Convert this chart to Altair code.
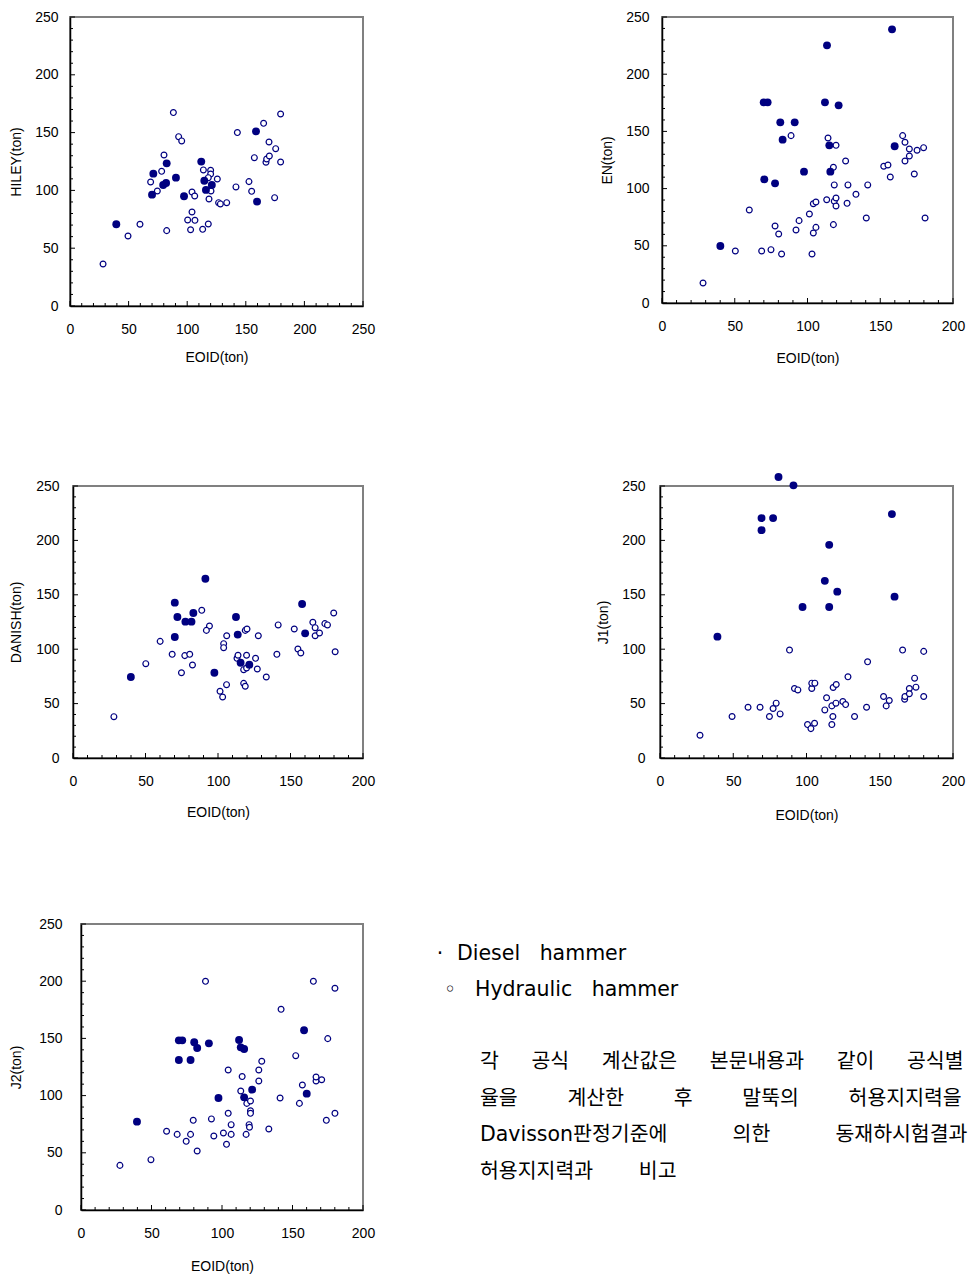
import altair as alt
import pandas as pd

NAVY = "#000080"
FONT = "Liberation Sans"
TXTFONT = "DejaVu Sans, Noto Sans CJK KR"

# ---------------- data (EOID vs formula, ton) ----------------
hiley_diesel_x = [39.5, 71.1, 70.0, 82.5, 79.5, 82.0, 90.4, 97.3, 112.0, 114.6, 116.0, 121.0, 158.7, 159.6]
hiley_diesel_y = [70.7, 114.5, 96.3, 123.4, 104.7, 106.4, 111.0, 94.9, 124.9, 108.4, 100.4, 104.7, 151.1, 90.3]
hiley_hyd_x = [28.2, 49.5, 59.7, 82.5, 68.8, 74.5, 78.2, 80.2, 88.2, 92.7, 95.3, 104.1, 106.4, 104.1, 100.4,
               106.6, 102.9, 113.2, 118.0, 113.8, 120.0, 120.0, 118.0, 125.7, 120.3, 118.6, 126.8, 128.3, 133.7,
               141.6, 142.8, 152.7, 155.0, 157.3, 165.2, 167.2, 167.8, 170.1, 169.8, 175.5, 174.6, 179.7, 179.7]
hiley_hyd_y = [36.3, 60.6, 70.7, 65.2, 107.3, 99.5, 116.5, 130.6, 167.3, 146.5, 142.8, 98.6, 95.2, 81.3, 74.4,
               74.1, 66.0, 66.3, 70.9, 117.7, 117.4, 114.2, 111.0, 109.9, 99.5, 92.6, 89.4, 88.3, 89.4,
               103.0, 150.0, 107.6, 99.2, 128.3, 158.0, 124.3, 127.2, 129.8, 141.9, 136.1, 93.7, 124.6, 166.1]

en_diesel_x = [158.1, 113.4, 69.9, 72.6, 112.0, 121.4, 81.3, 91.2, 82.9, 115.0, 159.9, 97.6, 115.7, 70.3, 77.7, 40.1]
en_diesel_y = [239.2, 225.2, 175.4, 175.4, 175.4, 172.8, 157.9, 157.9, 142.8, 137.8, 137.0, 114.8, 114.8, 108.1, 104.6, 49.8]
en_hyd_x = [28.2, 50.4, 60.0, 68.5, 74.9, 82.2, 77.7, 80.2, 88.7, 92.1, 94.2, 101.3, 103.1, 104.0, 105.8,
            104.0, 105.8, 113.2, 114.1, 117.8, 117.8, 118.4, 118.4, 119.6, 119.6, 119.6, 126.2, 127.2, 127.8,
            133.3, 140.4, 141.4, 152.4, 155.3, 156.9, 165.4, 167.0, 167.0, 170.0, 170.0, 173.4, 175.3, 179.8, 180.8]
en_hyd_y = [17.5, 45.5, 81.3, 45.5, 46.6, 42.8, 67.3, 60.3, 146.3, 63.8, 72.0, 77.8, 42.8, 61.2, 66.1,
            86.8, 88.3, 90.3, 144.2, 68.5, 118.6, 103.2, 88.9, 91.8, 84.8, 137.8, 124.1, 87.1, 103.2,
            95.0, 74.3, 103.2, 119.5, 120.6, 110.1, 146.3, 140.5, 124.1, 134.6, 128.5, 112.8, 133.5, 135.8, 74.3]

danish_diesel_x = [39.9, 70.2, 70.2, 72.0, 77.5, 81.7, 83.0, 91.3, 97.5, 112.4, 113.6, 115.6, 121.6, 158.0, 160.1]
danish_diesel_y = [74.5, 142.8, 111.2, 129.6, 125.3, 125.3, 133.3, 164.8, 78.4, 129.6, 113.4, 87.6, 85.8, 141.5, 114.6]
danish_hyd_x = [28.2, 50.2, 60.1, 68.4, 77.1, 80.5, 74.8, 82.4, 88.8, 94.1, 92.0, 101.4, 103.2, 105.9, 103.9,
                103.9, 106.0, 113.1, 113.8, 117.7, 117.7, 118.8, 118.8, 120.0, 119.7, 119.7, 125.9, 127.1, 127.8,
                133.3, 140.6, 141.5, 152.6, 155.1, 157.1, 165.4, 167.0, 167.0, 170.0, 173.7, 175.5, 179.8, 180.8]
danish_hyd_y = [38.0, 86.7, 107.2, 95.3, 94.1, 95.3, 78.4, 85.5, 135.7, 121.3, 117.3, 61.3, 56.1, 67.4, 105.1,
                101.4, 112.4, 91.6, 94.4, 81.2, 68.6, 65.9, 117.3, 118.6, 94.4, 82.7, 91.6, 81.8, 112.4,
                74.5, 95.3, 122.3, 118.6, 100.2, 96.5, 124.7, 119.8, 112.4, 114.9, 123.5, 122.3, 133.3, 97.7]

j1_diesel_x = [80.9, 91.1, 69.3, 77.2, 69.3, 158.3, 115.5, 112.5, 121.0, 160.1, 97.3, 115.5, 39.2]
j1_diesel_y = [258.3, 250.6, 220.5, 220.5, 209.4, 224.2, 195.9, 162.8, 152.9, 148.3, 138.8, 138.8, 111.5]
j1_hyd_x = [27.3, 49.2, 60.1, 68.3, 74.7, 77.2, 79.3, 82.0, 88.4, 91.8, 94.1, 100.7, 103.0, 105.5, 103.6,
            103.6, 105.7, 112.5, 113.7, 117.3, 118.0, 117.3, 118.2, 120.3, 120.1, 124.8, 126.7, 128.3, 132.8,
            141.0, 141.7, 152.6, 154.4, 156.5, 165.6, 167.0, 167.2, 170.2, 170.2, 173.8, 174.7, 180.0, 180.0]
j1_hyd_y = [20.9, 38.1, 46.7, 46.7, 38.1, 45.5, 50.4, 40.5, 99.2, 63.9, 62.6, 30.7, 27.0, 31.9, 63.9,
            68.8, 68.8, 44.2, 55.3, 47.9, 38.1, 30.7, 64.8, 67.6, 50.4, 51.9, 49.1, 74.6, 38.1,
            46.7, 88.4, 56.5, 47.9, 52.8, 99.2, 54.0, 56.5, 63.9, 59.0, 73.4, 65.1, 98.0, 56.5]

j2_diesel_x = [39.7, 69.4, 71.8, 69.4, 77.7, 80.3, 82.4, 90.7, 97.5, 112.1, 113.3, 115.7, 115.7, 121.4, 158.2, 160.1]
j2_diesel_y = [77.2, 148.3, 148.3, 131.1, 131.1, 146.6, 141.6, 145.7, 97.9, 148.6, 142.2, 140.7, 98.5, 105.2, 157.1, 101.7]
j2_hyd_x = [27.6, 49.6, 60.7, 68.2, 74.6, 77.7, 79.6, 82.4, 88.3, 92.5, 94.2, 101.0, 103.2, 106.5, 106.5,
            104.4, 104.4, 113.3, 114.3, 117.1, 117.6, 119.2, 119.5, 120.2, 120.2, 120.2, 126.1, 126.1, 128.2,
            133.2, 141.2, 141.9, 152.3, 154.9, 157.0, 164.8, 166.7, 166.7, 170.7, 174.0, 175.0, 180.1, 180.1]
j2_hyd_y = [39.0, 44.0, 68.8, 66.1, 60.0, 66.1, 78.4, 51.6, 199.9, 79.6, 64.7, 67.3, 57.4, 66.1, 74.6,
            84.5, 122.4, 104.0, 116.6, 66.1, 93.2, 74.6, 72.3, 95.3, 86.8, 84.5, 112.8, 122.4, 130.0,
            70.8, 97.9, 175.4, 134.9, 93.2, 109.3, 199.9, 112.8, 116.3, 113.9, 78.4, 149.8, 84.5, 193.8]

y_ticks_major = [0, 50, 100, 150, 200, 250]
y_ticks_minor = [10, 20, 30, 40, 60, 70, 80, 90, 110, 120, 130, 140, 160, 170, 180, 190, 210, 220, 230, 240]
x_ticks_major_250 = [0, 50, 100, 150, 200, 250]
x_ticks_minor_250 = [10, 20, 30, 40, 60, 70, 80, 90, 110, 120, 130, 140, 160, 170, 180, 190, 210, 220, 230, 240]
x_ticks_major_200 = [0, 50, 100, 150, 200]
x_ticks_minor_200 = [10, 20, 30, 40, 60, 70, 80, 90, 110, 120, 130, 140, 160, 170, 180, 190]

NB = "\u00a0"
TH = "\u2009"
legend_bullets = ["\u00b7", "\u25e6"]
legend_labels = ["Diesel" + NB * 3 + "hammer", "Hydraulic" + NB * 3 + "hammer"]
G2 = NB * 7 + TH
note_lines = [
    "각" + NB * 5 + "공식" + NB * 5 + "계산값은" + NB * 5 + "본문내용과" + NB * 5 + "같이" + NB * 5 + "공식별",
    "율을" + G2 + "계산한" + G2 + "후" + G2 + "말뚝의" + G2 + "허용지지력을",
    "Davisson판정기준에" + NB * 10 + "의한" + NB * 10 + "동재하시험결과(",
    "허용지지력과" + NB * 7 + "비고",
]


def panel(ytitle, xmax, dx, dy, hx, hy, w, h, ylabpad, ytitlepad, xtitlepad, xmaj, xmin):
    xs = alt.Scale(domain=[0, xmax], nice=False, zero=True)
    ys = alt.Scale(domain=[0, 250], nice=False, zero=True)
    xaxis = alt.Axis(values=xmaj, title="EOID(ton)", ticks=False, grid=False, labelPadding=16,
                     titlePadding=xtitlepad, labelFlush=False, labelOverlap=False)
    yaxis = alt.Axis(values=y_ticks_major, title=ytitle, ticks=False, grid=False, labelPadding=ylabpad,
                     titlePadding=ytitlepad, labelFlush=False, labelOverlap=False)
    X = alt.X("x:Q", scale=xs, axis=xaxis)
    Y = alt.Y("y:Q", scale=ys, axis=yaxis)

    hyd = alt.Chart(pd.DataFrame({"x": hx, "y": hy})).mark_point(
        shape="circle", filled=True, fill="white", stroke=NAVY, strokeWidth=1.2, size=34, opacity=1, clip=False
    ).encode(x=X, y=Y)
    dsl = alt.Chart(pd.DataFrame({"x": dx, "y": dy})).mark_circle(
        color=NAVY, size=62, opacity=1, clip=False
    ).encode(x=X, y=Y)

    ytM = alt.Chart(pd.DataFrame({"y": y_ticks_major})).mark_rule(color="black", strokeWidth=1).encode(
        y=Y, x=alt.value(0), x2=alt.value(5))
    ytm = alt.Chart(pd.DataFrame({"y": y_ticks_minor})).mark_rule(color="black", strokeWidth=1).encode(
        y=Y, x=alt.value(0), x2=alt.value(3))
    xtM = alt.Chart(pd.DataFrame({"x": xmaj})).mark_rule(color="black", strokeWidth=1).encode(
        x=X, y=alt.value(h), y2=alt.value(h - 5))
    xtm = alt.Chart(pd.DataFrame({"x": xmin})).mark_rule(color="black", strokeWidth=1).encode(
        x=X, y=alt.value(h), y2=alt.value(h - 3))

    return alt.layer(hyd, dsl, ytM, ytm, xtM, xtm).properties(width=w, height=h)


p1 = panel("HILEY(ton)", 250, hiley_diesel_x, hiley_diesel_y, hiley_hyd_x, hiley_hyd_y,
           293, 289, 12, 11, 14, x_ticks_major_250, x_ticks_minor_250)
p2 = panel("EN(ton)", 200, en_diesel_x, en_diesel_y, en_hyd_x, en_hyd_y,
           291, 286, 13, 11, 18, x_ticks_major_200, x_ticks_minor_200)
p3 = panel("DANISH(ton)", 200, danish_diesel_x, danish_diesel_y, danish_hyd_x, danish_hyd_y,
           290, 272, 14, 12, 17, x_ticks_major_200, x_ticks_minor_200)
p4 = panel("J1(ton)", 200, j1_diesel_x, j1_diesel_y, j1_hyd_x, j1_hyd_y,
           293, 272, 15, 11, 20, x_ticks_major_200, x_ticks_minor_200)
p5 = panel("J2(ton)", 200, j2_diesel_x, j2_diesel_y, j2_hyd_x, j2_hyd_y,
           282, 286, 19, 15, 19, x_ticks_major_200, x_ticks_minor_200)

base = alt.Chart(pd.DataFrame({"k": [0]}))
TS = 20.5
TW = 548
b1 = base.mark_text(font=TXTFONT, fontSize=TS, align="center", baseline="middle", color="black").encode(
    x=alt.value(19), y=alt.value(30), text=alt.value(legend_bullets[0]))
b2 = base.mark_text(font=TXTFONT, fontSize=TS, align="center", baseline="middle", color="black").encode(
    x=alt.value(29), y=alt.value(66), text=alt.value(legend_bullets[1]))
leg1 = base.mark_text(font=TXTFONT, fontSize=TS, align="left", baseline="middle", color="black").encode(
    x=alt.value(36), y=alt.value(30), text=alt.value(legend_labels[0]))
leg2 = base.mark_text(font=TXTFONT, fontSize=TS, align="left", baseline="middle", color="black").encode(
    x=alt.value(54), y=alt.value(66), text=alt.value(legend_labels[1]))
note = base.mark_text(font=TXTFONT, fontSize=TS, align="left", baseline="alphabetic", color="black",
                      lineHeight=36.7, limit=TW - 59, ellipsis="\u200b").encode(
    x=alt.value(59), y=alt.value(144), text=alt.value(note_lines))
text_panel = alt.layer(b1, b2, leg1, leg2, note).properties(
    width=TW, height=286, view=alt.ViewBackground(strokeOpacity=0))


def spacer():
    return alt.Chart(pd.DataFrame({"k": [0]})).mark_point(opacity=0).encode(
        x=alt.value(0), y=alt.value(0)).properties(width=1, height=1, view=alt.ViewBackground(strokeOpacity=0))


row1 = alt.hconcat(spacer(), alt.hconcat(p1, p2, spacing=223), spacing=2)
row2 = alt.hconcat(spacer(), alt.hconcat(p3, p4, spacing=219), spacing=2)
row3 = alt.hconcat(spacer(), alt.hconcat(p5, text_panel, spacing=45), spacing=2)

chart = alt.vconcat(alt.vconcat(row1, row2, spacing=106), row3, spacing=93).properties(
    padding={"left": 0, "top": 9, "right": 0, "bottom": 0}
).configure(background="white").configure_view(stroke="#808080", strokeWidth=2).configure_axis(
    labelFont=FONT, labelFontSize=14, titleFont=FONT, titleFontSize=14, titleFontWeight="normal",
    domainColor="black", domainWidth=1.5, labelColor="black", titleColor="black"
)

chart.save("out.html", embed_options={"renderer": "svg", "actions": False})
